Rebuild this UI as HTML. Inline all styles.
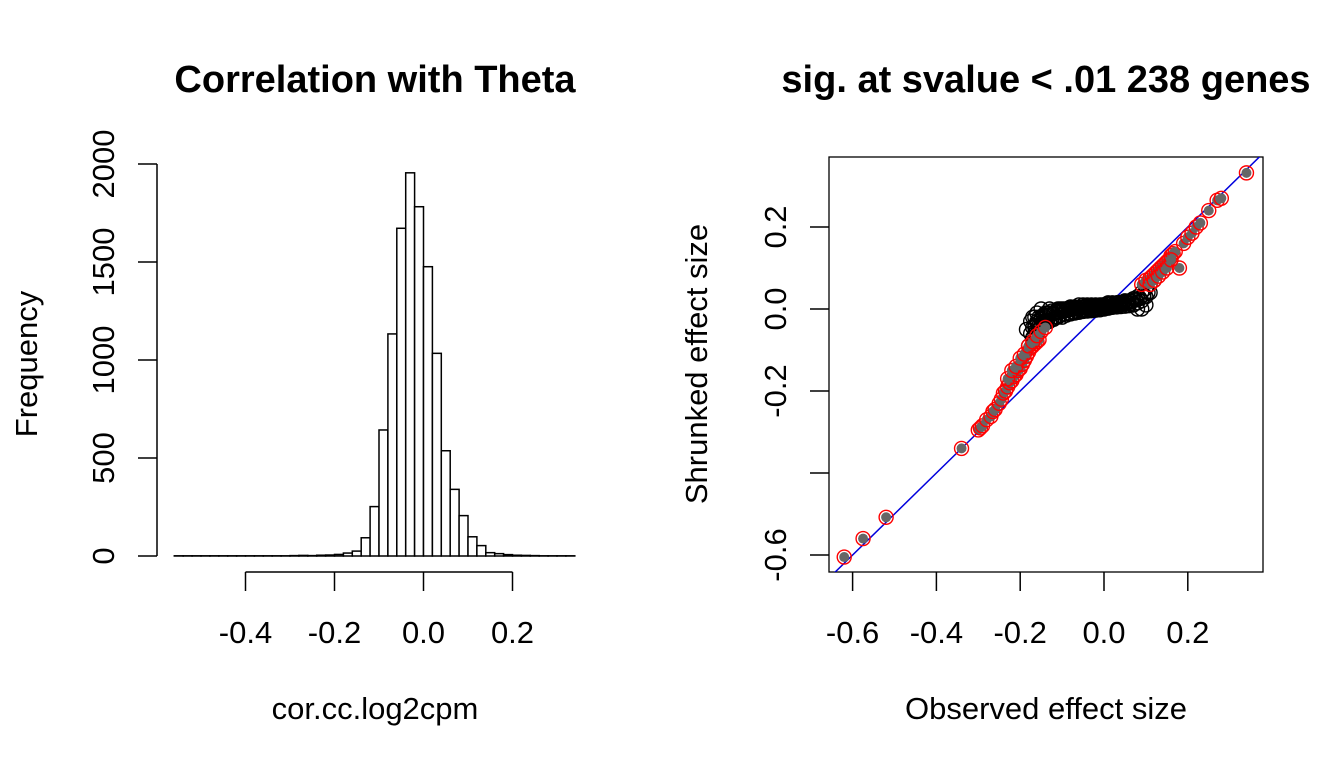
<!DOCTYPE html>
<html><head><meta charset="utf-8"><style>
body{margin:0;background:#fff;}
svg{display:block;font-family:"Liberation Sans",Arial,sans-serif;}
</style></head><body>
<svg id="chart" width="1344" height="768" viewBox="0 0 1344 768">
<text x="375" y="92" font-size="38" font-weight="bold" text-anchor="middle">Correlation with Theta</text>
<text x="1046" y="92" font-size="38" font-weight="bold" text-anchor="middle">sig. at svalue &lt; .01 238 genes</text>
<g id="hist"></g>
<g id="hx"></g>
<g id="hy"></g>
<text x="375" y="719" font-size="31" text-anchor="middle">cor.cc.log2cpm</text>
<text transform="translate(37,364) rotate(-90)" font-size="31" text-anchor="middle">Frequency</text>
<rect x="829" y="157" width="434" height="415" fill="none" stroke="#000" stroke-width="1.3"/>
<defs><clipPath id="clipbox"><rect x="829" y="157" width="434" height="415"/></clipPath></defs>
<g id="sc" clip-path="url(#clipbox)"></g>
<g id="sx"></g>
<g id="sy"></g>
<text x="1046" y="719" font-size="31" text-anchor="middle">Observed effect size</text>
<text transform="translate(707,364) rotate(-90)" font-size="31" text-anchor="middle">Shrunked effect size</text>
</svg>
<script>
const binStart = -0.56;
const binWidth = 0.02;
const binCounts = [1,1,1,1,1,1,1,1,1,1,1,1,1,2,3,2,4,5,8,15,25,93,252,643,1133,1672,1955,1782,1476,1034,537,340,206,98,53,17,12,7,4,3,2,1,1,1,1];
const histXTicks = [-0.4,-0.2,0.0,0.2];
const histXLabels = ["-0.4","-0.2","0.0","0.2"];
const histYTicks = [0,500,1000,1500,2000];
const histYLabels = ["0","500","1000","1500","2000"];
const scXTicks = [-0.6,-0.4,-0.2,0.0,0.2];
const scXLabels = ["-0.6","-0.4","-0.2","0.0","0.2"];
const scYTicks = [0.2,0.0,-0.2,-0.4,-0.6];
const scYLabels = ["0.2","0.0","-0.2","","-0.6"];
const blackX = [-0.185,-0.18,-0.175,-0.17,-0.165,-0.16,-0.155,-0.15,-0.145,-0.14,-0.13,-0.12,-0.11,-0.10,-0.09,-0.08,-0.07,-0.06,-0.05,-0.04,-0.03,-0.02,-0.01,0.0,0.01,0.02,0.03,0.04,0.05,0.06,0.07,0.08,0.09,0.10,0.11,0.12,
  -0.17,-0.165,-0.16,-0.155,-0.15,-0.14,-0.13,-0.12,-0.11,-0.10,-0.09,-0.08,-0.07,-0.06,-0.05,-0.04,-0.03,-0.02,-0.01,0.0,0.01,0.02,0.03,0.04,0.05,0.06,0.07,0.08,0.09,0.10,0.11,
  -0.16,-0.15,-0.14,-0.13,-0.12,-0.11,-0.10,-0.09,-0.08,-0.07,-0.06,-0.05,-0.04,-0.03,-0.02,-0.01,0.0,0.01,0.02,0.03,0.04,0.05,0.06,0.07,0.08,0.09,0.10,
  -0.175,-0.17,-0.165,-0.16,-0.155,-0.15,-0.145,-0.14,-0.135,-0.13,-0.125,-0.12,-0.115,-0.11,-0.105,-0.10,-0.095,-0.09,-0.085,-0.08,-0.075,-0.07,-0.065,-0.06,-0.055,-0.05,-0.045,-0.04,-0.035,-0.03,-0.025,-0.02,-0.015,-0.01,-0.005,0.005,0.015,0.025,0.035,0.045,0.055,0.065,0.075,0.085,0.095,0.105,
  -0.165,-0.155,-0.145,-0.135,-0.125,-0.115,-0.105,-0.095,-0.085,-0.075,-0.065,-0.055,-0.045,-0.035,-0.025,-0.015,-0.005,0.005,0.015,0.025,0.035,0.045,0.055,0.065,0.075,0.085,0.095];
const blackY = [-0.05,-0.09,-0.06,-0.02,-0.04,-0.01,-0.05,0.0,-0.03,-0.01,0.0,-0.01,0.0,0.0,0.0,0.005,0.005,0.01,0.01,0.01,0.01,0.01,0.01,0.01,0.015,0.015,0.015,0.015,0.02,0.02,0.025,0.03,0.04,0.05,0.06,0.07,
  -0.07,-0.06,-0.06,-0.05,-0.04,-0.035,-0.03,-0.025,-0.02,-0.02,-0.015,-0.012,-0.01,-0.008,-0.006,-0.005,-0.004,-0.003,-0.002,0.0,0.002,0.004,0.005,0.006,0.007,0.008,0.01,0.015,0.02,0.03,0.04,
  -0.03,-0.02,-0.015,-0.01,-0.01,-0.005,-0.005,-0.002,0.0,0.0,0.0,0.0,0.002,0.003,0.004,0.005,0.006,0.007,0.008,0.01,0.01,0.012,0.012,0.01,0.0,0.0,0.01,
  -0.03,-0.045,-0.02,-0.035,-0.02,-0.025,-0.015,-0.02,-0.01,-0.015,-0.005,-0.01,-0.005,-0.01,0.0,-0.005,0.0,-0.004,0.002,-0.002,0.003,0.0,0.004,0.002,0.005,0.004,0.006,0.005,0.006,0.006,0.007,0.008,0.008,0.009,0.01,0.012,0.013,0.014,0.016,0.017,0.018,0.02,0.022,0.025,0.03,0.04,
  -0.045,-0.04,-0.035,-0.03,-0.025,-0.02,-0.015,-0.012,-0.01,-0.007,-0.005,-0.003,-0.002,-0.001,0.0,0.001,0.002,0.004,0.006,0.008,0.01,0.012,0.015,0.018,0.022,0.027,0.035];
const redX = [-0.62,-0.575,-0.52,-0.34,-0.30,-0.295,-0.29,-0.28,-0.27,-0.265,-0.26,-0.25,-0.245,-0.24,-0.235,-0.23,-0.225,-0.22,-0.215,-0.21,-0.205,-0.20,-0.195,-0.19,-0.185,-0.18,-0.175,-0.17,-0.165,-0.16,-0.155,
  -0.23,-0.22,-0.21,-0.20,-0.19,-0.18,-0.17,-0.16,-0.15,-0.14,
  0.09,0.10,0.11,0.115,0.12,0.125,0.13,0.135,0.14,0.145,0.15,0.155,0.16,0.165,0.17,0.18,0.19,0.20,0.21,0.22,0.23,0.25,0.27,0.28,0.34,
  0.11,0.12,0.13,0.14,0.15,0.16];
const redY = [-0.605,-0.56,-0.508,-0.34,-0.295,-0.29,-0.285,-0.27,-0.262,-0.25,-0.245,-0.23,-0.22,-0.205,-0.2,-0.19,-0.18,-0.175,-0.165,-0.16,-0.15,-0.145,-0.135,-0.125,-0.115,-0.105,-0.095,-0.09,-0.085,-0.08,-0.075,
  -0.17,-0.15,-0.14,-0.12,-0.11,-0.09,-0.08,-0.065,-0.055,-0.045,
  0.06,0.07,0.075,0.08,0.085,0.09,0.095,0.10,0.105,0.11,0.115,0.12,0.13,0.135,0.14,0.10,0.16,0.175,0.185,0.2,0.21,0.24,0.265,0.27,0.332,
  0.06,0.07,0.08,0.09,0.10,0.12];

const NS='http://www.w3.org/2000/svg';
function mk(tag, attrs, parent){const e=document.createElementNS(NS,tag);for(const k in attrs)e.setAttribute(k,attrs[k]);parent.appendChild(e);return e;}
const hx = v => 423.5 + v*445;
const hy = v => 556 - v*0.196;
const hist = document.getElementById('hist');
binCounts.forEach((c,i)=>{
  const x0=hx(binStart+i*binWidth), x1=hx(binStart+(i+1)*binWidth);
  const r=mk('rect',{x:x0,y:hy(c),width:x1-x0,height:hy(0)-hy(c),fill:'#fff',stroke:'#000','stroke-width':1.5},hist);
  
  
});
const hxg=document.getElementById('hx');
mk('line',{x1:hx(histXTicks[0]),x2:hx(histXTicks[histXTicks.length-1]),y1:572,y2:572,stroke:'#000','stroke-width':1.5},hxg);
histXTicks.forEach((t,i)=>{
  mk('line',{x1:hx(t),x2:hx(t),y1:572,y2:591,stroke:'#000','stroke-width':1.5},hxg);
  const tx=mk('text',{x:hx(t),y:643,'font-size':31,'text-anchor':'middle'},hxg);tx.textContent=histXLabels[i];
  
  
});
const hyg=document.getElementById('hy');
mk('line',{x1:157,x2:157,y1:hy(histYTicks[0]),y2:hy(histYTicks[histYTicks.length-1]),stroke:'#000','stroke-width':1.5},hyg);
histYTicks.forEach((t,i)=>{
  mk('line',{x1:138,x2:157,y1:hy(t),y2:hy(t),stroke:'#000','stroke-width':1.5},hyg);
  const tx=mk('text',{transform:`translate(114,${hy(t)}) rotate(-90)`,'font-size':31,'text-anchor':'middle'},hyg);tx.textContent=histYLabels[i];
  
  
});
const sx = v => 1104 + v*419;
const sy = v => 309 - v*410;
const sc=document.getElementById('sc');
const ln=mk('line',{x1:sx(-0.8),y1:sy(-0.8),x2:sx(0.5),y2:sy(0.5),stroke:'#0000dd','stroke-width':1.5},sc);


blackX.forEach((x,i)=>{
  const c=mk('circle',{cx:sx(x),cy:sy(blackY[i]),r:7,fill:'none',stroke:'#000','stroke-width':1.4},sc);
  
  
});
redX.forEach((x,i)=>{
  const c=mk('circle',{cx:sx(x),cy:sy(redY[i]),r:7,fill:'none',stroke:'#ff0000','stroke-width':1.4},sc);
  
  
  const d=mk('circle',{cx:sx(x),cy:sy(redY[i]),r:5,fill:'#666'},sc);
  
  
});
const sxg=document.getElementById('sx');
scXTicks.forEach((t,i)=>{
  mk('line',{x1:sx(t),x2:sx(t),y1:572,y2:591,stroke:'#000','stroke-width':1.5},sxg);
  const tx=mk('text',{x:sx(t),y:643,'font-size':31,'text-anchor':'middle'},sxg);tx.textContent=scXLabels[i];
  
  
});
const syg=document.getElementById('sy');
scYTicks.forEach((t,i)=>{
  mk('line',{x1:810,x2:829,y1:sy(t),y2:sy(t),stroke:'#000','stroke-width':1.5},syg);
  const tx=mk('text',{transform:`translate(786,${sy(t)}) rotate(-90)`,'font-size':31,'text-anchor':'middle'},syg);tx.textContent=scYLabels[i];
  
  
});
</script>
</body></html>
